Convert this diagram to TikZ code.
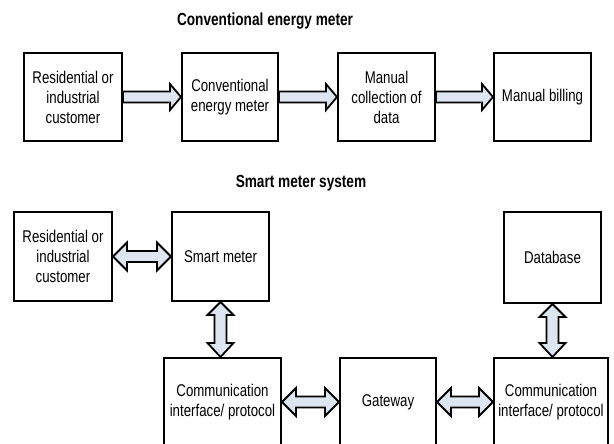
\documentclass[tikz,border=0pt]{standalone}
\usepackage{fontspec}
\setmainfont[FakeStretch=0.78]{Liberation Sans}
\usetikzlibrary{calc}
\definecolor{arrfill}{HTML}{DDE5F0}
\tikzset{
  box/.style={draw, line width=2pt, align=center, inner sep=0pt,
    font=\fontsize{17}{20}\selectfont, anchor=north west},
  arr/.style={draw, line width=1.8pt, fill=arrfill},
  ttl/.style={font=\fontsize{17.5}{20}\selectfont\bfseries}
}
\newcommand\harr[2]{\draw[arr] let \p1=(#1.east),\p2=(#2.west) in
  (\x1,\y1+5.5pt) -- (\x2-11pt,\y1+5.5pt) -- (\x2-11pt,\y1+13pt) -- (\x2,\y1)
  -- (\x2-11pt,\y1-13pt) -- (\x2-11pt,\y1-5.5pt) -- (\x1,\y1-5.5pt) -- cycle;}
\newcommand\hdarr[2]{\draw[arr] let \p1=(#1.east),\p2=(#2.west) in
  (\x1,\y1) -- (\x1+14pt,\y1+14pt) -- (\x1+14pt,\y1+5.5pt) -- (\x2-14pt,\y1+5.5pt)
  -- (\x2-14pt,\y1+14pt) -- (\x2,\y1) -- (\x2-14pt,\y1-14pt) -- (\x2-14pt,\y1-5.5pt)
  -- (\x1+14pt,\y1-5.5pt) -- (\x1+14pt,\y1-14pt) -- cycle;}
\newcommand\vdarr[2]{\draw[arr] let \p1=(#1.south),\p2=(#2.north) in
  (\x1,\y1) -- (\x1+13pt,\y1-13pt) -- (\x1+6pt,\y1-13pt) -- (\x1+6pt,\y2+14pt)
  -- (\x1+13pt,\y2+14pt) -- (\x1,\y2) -- (\x1-13pt,\y2+14pt) -- (\x1-6pt,\y2+14pt)
  -- (\x1-6pt,\y1-13pt) -- (\x1-13pt,\y1-13pt) -- cycle;}
\begin{document}
\begin{tikzpicture}[x=1pt,y=-1pt]
\useasboundingbox (0,0) rectangle (614,444);
\clip (0,0) rectangle (614,444);
\fill[white] (0,0) rectangle (614,444);
% titles
\node[ttl] (t1) at (265,21) {Conventional energy meter};
\node[ttl] (t2) at (301,183) {Smart meter system};
% top row
\node[box, minimum width=98, minimum height=88] (c1) at (23,52) {Residential or\\industrial\\customer};
\node[box, minimum width=96, minimum height=88] (c2) at (181,52) {Conventional\\energy meter};
\node[box, minimum width=97, minimum height=88] (c3) at (337,52) {Manual\\collection of\\data};
\node[box, minimum width=97, minimum height=88] (c4) at (493,52) {Manual billing};
\harr{c1}{c2}
\harr{c2}{c3}
\harr{c3}{c4}
% smart meter system
\node[box, minimum width=98, minimum height=89] (s1) at (13,211) {Residential or\\industrial\\customer};
\node[box, minimum width=97, minimum height=89] (s2) at (171,211) {Smart meter};
\node[box, minimum width=97, minimum height=91] (s3) at (503,211) {Database};
\node[box, minimum width=117, minimum height=88] (b1) at (163,357) {Communication\\interface/ protocol};
\node[box, minimum width=96, minimum height=88] (b2) at (339,357) {Gateway};
\node[box, minimum width=114, minimum height=88] (b3) at (493,357) {Communication\\interface/ protocol};
\hdarr{s1}{s2}
\hdarr{b1}{b2}
\hdarr{b2}{b3}
\vdarr{s2}{b1}
\vdarr{s3}{b3}
\end{tikzpicture}
\end{document}
